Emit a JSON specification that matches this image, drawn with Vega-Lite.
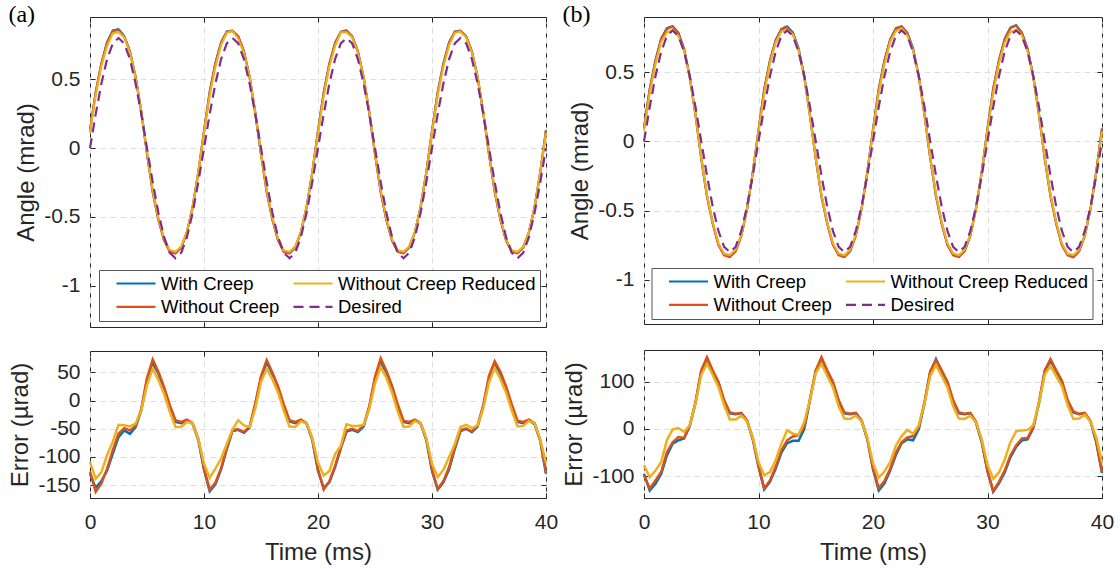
{
"$schema":"https://vega.github.io/schema/vega-lite/v6.json",
"background":"white",
"padding":{"left":8,"right":2,"top":3,"bottom":0},
"config":{
 "font":"Liberation Sans",
 "view":{"stroke":"#262626","strokeWidth":1},
 "axis":{"labelFont":"Liberation Sans","labelFontSize":21,"labelColor":"#262626","titleFont":"Liberation Sans","titleFontSize":24,"titleFontWeight":"normal","titleColor":"#262626","domain":false,"tickColor":"#262626","tickSize":-5,"tickWidth":1,"gridColor":"#dedede","gridDash":[6,4],"gridWidth":1,"labelPadding":15,"titlePadding":5,"labelFlush":false,"labelExpr":"'' + datum.value"},
 "legend":{"columns":2,"symbolType":"stroke","symbolSize":1521,"symbolStrokeWidth":2.4,"labelFont":"Liberation Sans","labelFontSize":18.5,"labelColor":"#000000","labelOffset":4,"symbolOffset":12,"columnPadding":-2.4,"rowPadding":4.4,"padding":4,"clipHeight":19,"fillColor":"#ffffff","strokeColor":"#555555","labelLimit":400}
},
"datasets":{
"a":[
{"t":0,"d":0,"wc":0.13,"wo":0.126,"wr":0.109,"ec":-130,"eo":-126,"er":-109},
{"t":0.5,"d":0.247,"wc":0.402,"wo":0.409,"wr":0.386,"ec":-155,"eo":-162,"er":-139},
{"t":1,"d":0.47,"wc":0.613,"wo":0.617,"wr":0.597,"ec":-143,"eo":-147,"er":-127},
{"t":1.5,"d":0.647,"wc":0.771,"wo":0.768,"wr":0.744,"ec":-124,"eo":-121,"er":-97},
{"t":2,"d":0.761,"wc":0.855,"wo":0.849,"wr":0.834,"ec":-94,"eo":-88,"er":-73},
{"t":2.5,"d":0.8,"wc":0.865,"wo":0.859,"wr":0.843,"ec":-65,"eo":-59,"er":-43},
{"t":3,"d":0.761,"wc":0.814,"wo":0.81,"wr":0.805,"ec":-53,"eo":-49,"er":-44},
{"t":3.5,"d":0.647,"wc":0.706,"wo":0.7,"wr":0.693,"ec":-59,"eo":-53,"er":-46},
{"t":4,"d":0.47,"wc":0.517,"wo":0.515,"wr":0.511,"ec":-47,"eo":-45,"er":-41},
{"t":4.5,"d":0.247,"wc":0.264,"wo":0.262,"wr":0.264,"ec":-17,"eo":-15,"er":-17},
{"t":5,"d":0,"wc":-0.037,"wo":-0.04,"wr":-0.027,"ec":37,"eo":40,"er":27},
{"t":5.5,"d":-0.247,"wc":-0.314,"wo":-0.32,"wr":-0.304,"ec":67,"eo":73,"er":57},
{"t":6,"d":-0.47,"wc":-0.518,"wo":-0.521,"wr":-0.506,"ec":48,"eo":51,"er":36},
{"t":6.5,"d":-0.647,"wc":-0.668,"wo":-0.671,"wr":-0.659,"ec":21,"eo":24,"er":12},
{"t":7,"d":-0.761,"wc":-0.75,"wo":-0.753,"wr":-0.741,"ec":-11,"eo":-8,"er":-20},
{"t":7.5,"d":-0.8,"wc":-0.762,"wo":-0.765,"wr":-0.753,"ec":-38,"eo":-35,"er":-47},
{"t":8,"d":-0.761,"wc":-0.721,"wo":-0.723,"wr":-0.714,"ec":-40,"eo":-38,"er":-47},
{"t":8.5,"d":-0.647,"wc":-0.612,"wo":-0.613,"wr":-0.609,"ec":-35,"eo":-34,"er":-38},
{"t":9,"d":-0.47,"wc":-0.429,"wo":-0.43,"wr":-0.43,"ec":-41,"eo":-40,"er":-40},
{"t":9.5,"d":-0.247,"wc":-0.177,"wo":-0.179,"wr":-0.179,"ec":-70,"eo":-68,"er":-68},
{"t":10,"d":0,"wc":0.123,"wo":0.12,"wr":0.112,"ec":-123,"eo":-120,"er":-112},
{"t":10.5,"d":0.247,"wc":0.408,"wo":0.405,"wr":0.384,"ec":-161,"eo":-158,"er":-137},
{"t":11,"d":0.47,"wc":0.619,"wo":0.616,"wr":0.591,"ec":-149,"eo":-146,"er":-121},
{"t":11.5,"d":0.647,"wc":0.769,"wo":0.767,"wr":0.75,"ec":-122,"eo":-120,"er":-103},
{"t":12,"d":0.761,"wc":0.847,"wo":0.845,"wr":0.838,"ec":-86,"eo":-84,"er":-77},
{"t":12.5,"d":0.8,"wc":0.854,"wo":0.852,"wr":0.851,"ec":-54,"eo":-52,"er":-51},
{"t":13,"d":0.761,"wc":0.813,"wo":0.812,"wr":0.796,"ec":-52,"eo":-51,"er":-35},
{"t":13.5,"d":0.647,"wc":0.704,"wo":0.703,"wr":0.691,"ec":-57,"eo":-56,"er":-44},
{"t":14,"d":0.47,"wc":0.518,"wo":0.516,"wr":0.517,"ec":-48,"eo":-46,"er":-47},
{"t":14.5,"d":0.247,"wc":0.254,"wo":0.252,"wr":0.261,"ec":-7,"eo":-5,"er":-14},
{"t":15,"d":0,"wc":-0.04,"wo":-0.043,"wr":-0.033,"ec":40,"eo":43,"er":33},
{"t":15.5,"d":-0.247,"wc":-0.315,"wo":-0.319,"wr":-0.303,"ec":68,"eo":72,"er":56},
{"t":16,"d":-0.47,"wc":-0.517,"wo":-0.52,"wr":-0.508,"ec":47,"eo":50,"er":38},
{"t":16.5,"d":-0.647,"wc":-0.669,"wo":-0.672,"wr":-0.661,"ec":22,"eo":25,"er":14},
{"t":17,"d":-0.761,"wc":-0.751,"wo":-0.754,"wr":-0.743,"ec":-10,"eo":-7,"er":-18},
{"t":17.5,"d":-0.8,"wc":-0.763,"wo":-0.765,"wr":-0.754,"ec":-37,"eo":-35,"er":-46},
{"t":18,"d":-0.761,"wc":-0.721,"wo":-0.723,"wr":-0.714,"ec":-40,"eo":-38,"er":-47},
{"t":18.5,"d":-0.647,"wc":-0.612,"wo":-0.613,"wr":-0.61,"ec":-35,"eo":-34,"er":-37},
{"t":19,"d":-0.47,"wc":-0.429,"wo":-0.43,"wr":-0.43,"ec":-41,"eo":-40,"er":-40},
{"t":19.5,"d":-0.247,"wc":-0.177,"wo":-0.179,"wr":-0.18,"ec":-70,"eo":-68,"er":-67},
{"t":20,"d":0,"wc":0.125,"wo":0.122,"wr":0.11,"ec":-125,"eo":-122,"er":-110},
{"t":20.5,"d":0.247,"wc":0.402,"wo":0.405,"wr":0.38,"ec":-155,"eo":-158,"er":-133},
{"t":21,"d":0.47,"wc":0.615,"wo":0.613,"wr":0.595,"ec":-145,"eo":-143,"er":-125},
{"t":21.5,"d":0.647,"wc":0.765,"wo":0.763,"wr":0.742,"ec":-118,"eo":-116,"er":-95},
{"t":22,"d":0.761,"wc":0.846,"wo":0.844,"wr":0.841,"ec":-85,"eo":-83,"er":-80},
{"t":22.5,"d":0.8,"wc":0.855,"wo":0.853,"wr":0.842,"ec":-55,"eo":-53,"er":-42},
{"t":23,"d":0.761,"wc":0.813,"wo":0.811,"wr":0.806,"ec":-52,"eo":-50,"er":-45},
{"t":23.5,"d":0.647,"wc":0.703,"wo":0.701,"wr":0.692,"ec":-56,"eo":-54,"er":-45},
{"t":24,"d":0.47,"wc":0.516,"wo":0.514,"wr":0.513,"ec":-46,"eo":-44,"er":-43},
{"t":24.5,"d":0.247,"wc":0.259,"wo":0.257,"wr":0.262,"ec":-12,"eo":-10,"er":-15},
{"t":25,"d":0,"wc":-0.038,"wo":-0.042,"wr":-0.03,"ec":38,"eo":42,"er":30},
{"t":25.5,"d":-0.247,"wc":-0.315,"wo":-0.322,"wr":-0.307,"ec":68,"eo":75,"er":60},
{"t":26,"d":-0.47,"wc":-0.52,"wo":-0.523,"wr":-0.51,"ec":50,"eo":53,"er":40},
{"t":26.5,"d":-0.647,"wc":-0.67,"wo":-0.673,"wr":-0.661,"ec":23,"eo":26,"er":14},
{"t":27,"d":-0.761,"wc":-0.751,"wo":-0.754,"wr":-0.741,"ec":-10,"eo":-7,"er":-20},
{"t":27.5,"d":-0.8,"wc":-0.762,"wo":-0.764,"wr":-0.753,"ec":-38,"eo":-36,"er":-47},
{"t":28,"d":-0.761,"wc":-0.721,"wo":-0.723,"wr":-0.715,"ec":-40,"eo":-38,"er":-46},
{"t":28.5,"d":-0.647,"wc":-0.612,"wo":-0.613,"wr":-0.611,"ec":-35,"eo":-34,"er":-36},
{"t":29,"d":-0.47,"wc":-0.429,"wo":-0.43,"wr":-0.43,"ec":-41,"eo":-40,"er":-40},
{"t":29.5,"d":-0.247,"wc":-0.177,"wo":-0.179,"wr":-0.18,"ec":-70,"eo":-68,"er":-67},
{"t":30,"d":0,"wc":0.125,"wo":0.122,"wr":0.112,"ec":-125,"eo":-122,"er":-112},
{"t":30.5,"d":0.247,"wc":0.405,"wo":0.404,"wr":0.383,"ec":-158,"eo":-157,"er":-136},
{"t":31,"d":0.47,"wc":0.615,"wo":0.613,"wr":0.593,"ec":-145,"eo":-143,"er":-123},
{"t":31.5,"d":0.647,"wc":0.769,"wo":0.765,"wr":0.747,"ec":-122,"eo":-118,"er":-100},
{"t":32,"d":0.761,"wc":0.847,"wo":0.844,"wr":0.838,"ec":-86,"eo":-83,"er":-77},
{"t":32.5,"d":0.8,"wc":0.854,"wo":0.852,"wr":0.847,"ec":-54,"eo":-52,"er":-47},
{"t":33,"d":0.761,"wc":0.811,"wo":0.811,"wr":0.804,"ec":-50,"eo":-50,"er":-43},
{"t":33.5,"d":0.647,"wc":0.703,"wo":0.702,"wr":0.696,"ec":-56,"eo":-55,"er":-49},
{"t":34,"d":0.47,"wc":0.516,"wo":0.514,"wr":0.514,"ec":-46,"eo":-44,"er":-44},
{"t":34.5,"d":0.247,"wc":0.257,"wo":0.255,"wr":0.261,"ec":-10,"eo":-8,"er":-14},
{"t":35,"d":0,"wc":-0.04,"wo":-0.044,"wr":-0.032,"ec":40,"eo":44,"er":32},
{"t":35.5,"d":-0.247,"wc":-0.313,"wo":-0.317,"wr":-0.305,"ec":66,"eo":70,"er":58},
{"t":36,"d":-0.47,"wc":-0.517,"wo":-0.521,"wr":-0.508,"ec":47,"eo":51,"er":38},
{"t":36.5,"d":-0.647,"wc":-0.669,"wo":-0.672,"wr":-0.661,"ec":22,"eo":25,"er":14},
{"t":37,"d":-0.761,"wc":-0.751,"wo":-0.754,"wr":-0.743,"ec":-10,"eo":-7,"er":-18},
{"t":37.5,"d":-0.8,"wc":-0.762,"wo":-0.764,"wr":-0.754,"ec":-38,"eo":-36,"er":-46},
{"t":38,"d":-0.761,"wc":-0.721,"wo":-0.723,"wr":-0.716,"ec":-40,"eo":-38,"er":-45},
{"t":38.5,"d":-0.647,"wc":-0.612,"wo":-0.613,"wr":-0.611,"ec":-35,"eo":-34,"er":-36},
{"t":39,"d":-0.47,"wc":-0.428,"wo":-0.43,"wr":-0.43,"ec":-42,"eo":-40,"er":-40},
{"t":39.5,"d":-0.247,"wc":-0.175,"wo":-0.177,"wr":-0.177,"ec":-72,"eo":-70,"er":-70},
{"t":40,"d":0,"wc":0.13,"wo":0.128,"wr":0.11,"ec":-130,"eo":-128,"er":-110}
],
"b":[
{"t":0,"d":0,"wc":0.095,"wo":0.098,"wr":0.077,"ec":-95,"eo":-98,"er":-77},
{"t":0.5,"d":0.247,"wc":0.377,"wo":0.373,"wr":0.349,"ec":-130,"eo":-126,"er":-102},
{"t":1,"d":0.47,"wc":0.586,"wo":0.579,"wr":0.558,"ec":-116,"eo":-109,"er":-88},
{"t":1.5,"d":0.647,"wc":0.742,"wo":0.738,"wr":0.717,"ec":-95,"eo":-91,"er":-70},
{"t":2,"d":0.761,"wc":0.817,"wo":0.81,"wr":0.785,"ec":-56,"eo":-49,"er":-24},
{"t":2.5,"d":0.8,"wc":0.831,"wo":0.828,"wr":0.801,"ec":-31,"eo":-28,"er":-1},
{"t":3,"d":0.761,"wc":0.785,"wo":0.778,"wr":0.759,"ec":-24,"eo":-17,"er":2},
{"t":3.5,"d":0.647,"wc":0.667,"wo":0.666,"wr":0.653,"ec":-20,"eo":-19,"er":-6},
{"t":4,"d":0.47,"wc":0.464,"wo":0.462,"wr":0.462,"ec":6,"eo":8,"er":8},
{"t":4.5,"d":0.247,"wc":0.192,"wo":0.19,"wr":0.193,"ec":55,"eo":57,"er":54},
{"t":5,"d":0,"wc":-0.122,"wo":-0.124,"wr":-0.114,"ec":122,"eo":124,"er":114},
{"t":5.5,"d":-0.247,"wc":-0.392,"wo":-0.399,"wr":-0.385,"ec":145,"eo":152,"er":138},
{"t":6,"d":-0.47,"wc":-0.59,"wo":-0.594,"wr":-0.584,"ec":120,"eo":124,"er":114},
{"t":6.5,"d":-0.647,"wc":-0.745,"wo":-0.747,"wr":-0.736,"ec":98,"eo":100,"er":89},
{"t":7,"d":-0.761,"wc":-0.819,"wo":-0.822,"wr":-0.811,"ec":58,"eo":61,"er":50},
{"t":7.5,"d":-0.8,"wc":-0.833,"wo":-0.835,"wr":-0.82,"ec":33,"eo":35,"er":20},
{"t":8,"d":-0.761,"wc":-0.792,"wo":-0.793,"wr":-0.781,"ec":31,"eo":32,"er":20},
{"t":8.5,"d":-0.647,"wc":-0.68,"wo":-0.681,"wr":-0.675,"ec":33,"eo":34,"er":28},
{"t":9,"d":-0.47,"wc":-0.487,"wo":-0.488,"wr":-0.486,"ec":17,"eo":18,"er":16},
{"t":9.5,"d":-0.247,"wc":-0.225,"wo":-0.227,"wr":-0.229,"ec":-22,"eo":-20,"er":-18},
{"t":10,"d":0,"wc":0.08,"wo":0.077,"wr":0.07,"ec":-80,"eo":-77,"er":-70},
{"t":10.5,"d":0.247,"wc":0.375,"wo":0.373,"wr":0.345,"ec":-128,"eo":-126,"er":-98},
{"t":11,"d":0.47,"wc":0.582,"wo":0.579,"wr":0.561,"ec":-112,"eo":-109,"er":-91},
{"t":11.5,"d":0.647,"wc":0.731,"wo":0.727,"wr":0.713,"ec":-84,"eo":-80,"er":-66},
{"t":12,"d":0.761,"wc":0.811,"wo":0.806,"wr":0.792,"ec":-50,"eo":-45,"er":-31},
{"t":12.5,"d":0.8,"wc":0.83,"wo":0.824,"wr":0.803,"ec":-30,"eo":-24,"er":-3},
{"t":13,"d":0.761,"wc":0.786,"wo":0.777,"wr":0.771,"ec":-25,"eo":-16,"er":-10},
{"t":13.5,"d":0.647,"wc":0.672,"wo":0.66,"wr":0.659,"ec":-25,"eo":-13,"er":-12},
{"t":14,"d":0.47,"wc":0.47,"wo":0.466,"wr":0.455,"ec":0,"eo":4,"er":15},
{"t":14.5,"d":0.247,"wc":0.185,"wo":0.183,"wr":0.185,"ec":62,"eo":64,"er":62},
{"t":15,"d":0,"wc":-0.122,"wo":-0.124,"wr":-0.118,"ec":122,"eo":124,"er":118},
{"t":15.5,"d":-0.247,"wc":-0.393,"wo":-0.399,"wr":-0.385,"ec":146,"eo":152,"er":138},
{"t":16,"d":-0.47,"wc":-0.59,"wo":-0.594,"wr":-0.582,"ec":120,"eo":124,"er":112},
{"t":16.5,"d":-0.647,"wc":-0.745,"wo":-0.747,"wr":-0.735,"ec":98,"eo":100,"er":88},
{"t":17,"d":-0.761,"wc":-0.819,"wo":-0.822,"wr":-0.809,"ec":58,"eo":61,"er":48},
{"t":17.5,"d":-0.8,"wc":-0.833,"wo":-0.835,"wr":-0.822,"ec":33,"eo":35,"er":22},
{"t":18,"d":-0.761,"wc":-0.792,"wo":-0.793,"wr":-0.782,"ec":31,"eo":32,"er":21},
{"t":18.5,"d":-0.647,"wc":-0.68,"wo":-0.681,"wr":-0.675,"ec":33,"eo":34,"er":28},
{"t":19,"d":-0.47,"wc":-0.487,"wo":-0.488,"wr":-0.486,"ec":17,"eo":18,"er":16},
{"t":19.5,"d":-0.247,"wc":-0.225,"wo":-0.227,"wr":-0.229,"ec":-22,"eo":-20,"er":-18},
{"t":20,"d":0,"wc":0.085,"wo":0.082,"wr":0.072,"ec":-85,"eo":-82,"er":-72},
{"t":20.5,"d":0.247,"wc":0.377,"wo":0.372,"wr":0.35,"ec":-130,"eo":-125,"er":-103},
{"t":21,"d":0.47,"wc":0.585,"wo":0.58,"wr":0.56,"ec":-115,"eo":-110,"er":-90},
{"t":21.5,"d":0.647,"wc":0.735,"wo":0.731,"wr":0.717,"ec":-88,"eo":-84,"er":-70},
{"t":22,"d":0.761,"wc":0.816,"wo":0.811,"wr":0.796,"ec":-55,"eo":-50,"er":-35},
{"t":22.5,"d":0.8,"wc":0.83,"wo":0.828,"wr":0.815,"ec":-30,"eo":-28,"er":-15},
{"t":23,"d":0.761,"wc":0.783,"wo":0.779,"wr":0.763,"ec":-22,"eo":-18,"er":-2},
{"t":23.5,"d":0.647,"wc":0.671,"wo":0.662,"wr":0.657,"ec":-24,"eo":-15,"er":-10},
{"t":24,"d":0.47,"wc":0.47,"wo":0.466,"wr":0.462,"ec":0,"eo":4,"er":8},
{"t":24.5,"d":0.247,"wc":0.192,"wo":0.19,"wr":0.193,"ec":55,"eo":57,"er":54},
{"t":25,"d":0,"wc":-0.12,"wo":-0.122,"wr":-0.112,"ec":120,"eo":122,"er":112},
{"t":25.5,"d":-0.247,"wc":-0.395,"wo":-0.392,"wr":-0.382,"ec":148,"eo":145,"er":135},
{"t":26,"d":-0.47,"wc":-0.592,"wo":-0.594,"wr":-0.582,"ec":122,"eo":124,"er":112},
{"t":26.5,"d":-0.647,"wc":-0.745,"wo":-0.747,"wr":-0.735,"ec":98,"eo":100,"er":88},
{"t":27,"d":-0.761,"wc":-0.819,"wo":-0.822,"wr":-0.809,"ec":58,"eo":61,"er":48},
{"t":27.5,"d":-0.8,"wc":-0.833,"wo":-0.835,"wr":-0.822,"ec":33,"eo":35,"er":22},
{"t":28,"d":-0.761,"wc":-0.792,"wo":-0.793,"wr":-0.782,"ec":31,"eo":32,"er":21},
{"t":28.5,"d":-0.647,"wc":-0.68,"wo":-0.681,"wr":-0.675,"ec":33,"eo":34,"er":28},
{"t":29,"d":-0.47,"wc":-0.483,"wo":-0.485,"wr":-0.484,"ec":13,"eo":15,"er":14},
{"t":29.5,"d":-0.247,"wc":-0.219,"wo":-0.221,"wr":-0.225,"ec":-28,"eo":-26,"er":-22},
{"t":30,"d":0,"wc":0.09,"wo":0.088,"wr":0.076,"ec":-90,"eo":-88,"er":-76},
{"t":30.5,"d":0.247,"wc":0.38,"wo":0.378,"wr":0.352,"ec":-133,"eo":-131,"er":-105},
{"t":31,"d":0.47,"wc":0.585,"wo":0.582,"wr":0.562,"ec":-115,"eo":-112,"er":-92},
{"t":31.5,"d":0.647,"wc":0.739,"wo":0.735,"wr":0.712,"ec":-92,"eo":-88,"er":-65},
{"t":32,"d":0.761,"wc":0.821,"wo":0.817,"wr":0.789,"ec":-60,"eo":-56,"er":-28},
{"t":32.5,"d":0.8,"wc":0.838,"wo":0.835,"wr":0.805,"ec":-38,"eo":-35,"er":-5},
{"t":33,"d":0.761,"wc":0.785,"wo":0.781,"wr":0.764,"ec":-24,"eo":-20,"er":-3},
{"t":33.5,"d":0.647,"wc":0.669,"wo":0.666,"wr":0.649,"ec":-22,"eo":-19,"er":-2},
{"t":34,"d":0.47,"wc":0.468,"wo":0.466,"wr":0.462,"ec":2,"eo":4,"er":8},
{"t":34.5,"d":0.247,"wc":0.192,"wo":0.19,"wr":0.192,"ec":55,"eo":57,"er":55},
{"t":35,"d":0,"wc":-0.122,"wo":-0.124,"wr":-0.115,"ec":122,"eo":124,"er":115},
{"t":35.5,"d":-0.247,"wc":-0.392,"wo":-0.395,"wr":-0.38,"ec":145,"eo":148,"er":133},
{"t":36,"d":-0.47,"wc":-0.592,"wo":-0.594,"wr":-0.582,"ec":122,"eo":124,"er":112},
{"t":36.5,"d":-0.647,"wc":-0.747,"wo":-0.749,"wr":-0.737,"ec":100,"eo":102,"er":90},
{"t":37,"d":-0.761,"wc":-0.819,"wo":-0.822,"wr":-0.811,"ec":58,"eo":61,"er":50},
{"t":37.5,"d":-0.8,"wc":-0.835,"wo":-0.837,"wr":-0.821,"ec":35,"eo":37,"er":21},
{"t":38,"d":-0.761,"wc":-0.792,"wo":-0.793,"wr":-0.783,"ec":31,"eo":32,"er":22},
{"t":38.5,"d":-0.647,"wc":-0.68,"wo":-0.681,"wr":-0.677,"ec":33,"eo":34,"er":30},
{"t":39,"d":-0.47,"wc":-0.485,"wo":-0.487,"wr":-0.485,"ec":15,"eo":17,"er":15},
{"t":39.5,"d":-0.247,"wc":-0.219,"wo":-0.22,"wr":-0.229,"ec":-28,"eo":-27,"er":-18},
{"t":40,"d":0,"wc":0.093,"wo":0.091,"wr":0.07,"ec":-93,"eo":-91,"er":-70}
]
},
"spacing":3,
"resolve":{"scale":{"x":"independent","y":"independent","color":"independent","strokeDash":"independent","strokeWidth":"independent"},"legend":{"color":"independent","strokeDash":"independent","strokeWidth":"independent"}},
"hconcat":[
{
 "title":{"text":"(a)","anchor":"start","frame":"bounds","font":"Liberation Serif","fontSize":24,"fontWeight":"normal","color":"#000000","offset":-11},
 "spacing":22,
 "resolve":{"scale":{"x":"independent","y":"independent","color":"independent","strokeDash":"independent","strokeWidth":"independent"},"legend":{"color":"independent","strokeDash":"independent","strokeWidth":"independent"}},
 "vconcat":[
  {
   "width":456,"height":310,
   "data":{"name":"a"},
   "transform":[{"fold":["wc","wo","wr","d"],"as":["k","v"]}],
   "layer":[
    {"mark":{"type":"line"},
     "encoding":{
      "x":{"field":"t","type":"quantitative","scale":{"domain":[0,40],"nice":false,"zero":false},"axis":{"values":[0,10,20,30,40],"labels":false,"title":null}},
      "y":{"field":"v","type":"quantitative","scale":{"domain":[-1.3,0.953],"nice":false,"zero":false},"axis":{"values":[-1,-0.5,0,0.5],"title":"Angle (mrad)"}},
      "color":{"field":"k","type":"nominal","scale":{"domain":["wc","wo","wr","d"],"range":["#0072BD","#D95319","#EDB120","#7E2F8E"]},"legend":{"orient":"none","legendX":9,"legendY":253,"title":null,"labelExpr":"datum.value=='wc'?'With Creep':datum.value=='wo'?'Without Creep':datum.value=='wr'?'Without Creep Reduced':'Desired'"}},
      "strokeDash":{"field":"k","type":"nominal","scale":{"domain":["wc","wo","wr","d"],"range":[[1,0],[1,0],[1,0],[10,6]]},"legend":{"orient":"none","legendX":9,"legendY":253,"title":null,"labelExpr":"datum.value=='wc'?'With Creep':datum.value=='wo'?'Without Creep':datum.value=='wr'?'Without Creep Reduced':'Desired'"}},
      "strokeWidth":{"field":"k","type":"nominal","scale":{"domain":["wc","wo","wr","d"],"range":[2.2,2.2,2.2,2.8]},"legend":{"orient":"none","legendX":9,"legendY":253,"title":null,"labelExpr":"datum.value=='wc'?'With Creep':datum.value=='wo'?'Without Creep':datum.value=='wr'?'Without Creep Reduced':'Desired'"}}
     }},
    {"mark":{"type":"line","strokeOpacity":0},
     "encoding":{
      "x":{"field":"t","type":"quantitative","axis":{"orient":"top","values":[0,10,20,30,40],"labels":false,"grid":false,"title":null}},
      "y":{"field":"v","type":"quantitative","axis":{"orient":"right","values":[-1,-0.5,0,0.5],"labels":false,"grid":false,"title":null}}
     }}
   ],
   "resolve":{"axis":{"x":"independent","y":"independent"}}
  },
  {
   "width":456,"height":147,
   "data":{"name":"a"},
   "transform":[{"fold":["ec","eo","er"],"as":["k","v"]}],
   "layer":[
    {"mark":{"type":"line","strokeWidth":2.5},
     "encoding":{
      "x":{"field":"t","type":"quantitative","scale":{"domain":[0,40],"nice":false,"zero":false},"axis":{"values":[0,10,20,30,40],"title":"Time (ms)","labelPadding":18,"titlePadding":8}},
      "y":{"field":"v","type":"quantitative","scale":{"domain":[-173,88],"nice":false,"zero":false},"axis":{"values":[-150,-100,-50,0,50],"title":"Error (µrad)"}},
      "color":{"field":"k","type":"nominal","scale":{"domain":["ec","eo","er"],"range":["#0072BD","#D95319","#EDB120"]},"legend":null}
     }},
    {"mark":{"type":"line","strokeOpacity":0},
     "encoding":{
      "x":{"field":"t","type":"quantitative","axis":{"orient":"top","values":[0,10,20,30,40],"labels":false,"grid":false,"title":null}},
      "y":{"field":"v","type":"quantitative","axis":{"orient":"right","values":[-150,-100,-50,0,50],"labels":false,"grid":false,"title":null}}
     }}
   ],
   "resolve":{"axis":{"x":"independent","y":"independent"}}
  }
 ]
},
{
 "title":{"text":"(b)","anchor":"start","frame":"bounds","font":"Liberation Serif","fontSize":24,"fontWeight":"normal","color":"#000000","offset":-11},
 "spacing":24,
 "resolve":{"scale":{"x":"independent","y":"independent","color":"independent","strokeDash":"independent","strokeWidth":"independent"},"legend":{"color":"independent","strokeDash":"independent","strokeWidth":"independent"}},
 "vconcat":[
  {
   "width":458,"height":307,
   "data":{"name":"b"},
   "transform":[{"fold":["wc","wo","wr","d"],"as":["k","v"]}],
   "layer":[
    {"mark":{"type":"line"},
     "encoding":{
      "x":{"field":"t","type":"quantitative","scale":{"domain":[0,40],"nice":false,"zero":false},"axis":{"values":[0,10,20,30,40],"labels":false,"title":null}},
      "y":{"field":"v","type":"quantitative","scale":{"domain":[-1.318,0.897],"nice":false,"zero":false},"axis":{"values":[-1,-0.5,0,0.5],"title":"Angle (mrad)"}},
      "color":{"field":"k","type":"nominal","scale":{"domain":["wc","wo","wr","d"],"range":["#0072BD","#D95319","#EDB120","#7E2F8E"]},"legend":{"orient":"none","legendX":7.5,"legendY":251,"title":null,"labelExpr":"datum.value=='wc'?'With Creep':datum.value=='wo'?'Without Creep':datum.value=='wr'?'Without Creep Reduced':'Desired'"}},
      "strokeDash":{"field":"k","type":"nominal","scale":{"domain":["wc","wo","wr","d"],"range":[[1,0],[1,0],[1,0],[10,6]]},"legend":{"orient":"none","legendX":7.5,"legendY":251,"title":null,"labelExpr":"datum.value=='wc'?'With Creep':datum.value=='wo'?'Without Creep':datum.value=='wr'?'Without Creep Reduced':'Desired'"}},
      "strokeWidth":{"field":"k","type":"nominal","scale":{"domain":["wc","wo","wr","d"],"range":[2.2,2.2,2.2,2.8]},"legend":{"orient":"none","legendX":7.5,"legendY":251,"title":null,"labelExpr":"datum.value=='wc'?'With Creep':datum.value=='wo'?'Without Creep':datum.value=='wr'?'Without Creep Reduced':'Desired'"}}
     }},
    {"mark":{"type":"line","strokeOpacity":0},
     "encoding":{
      "x":{"field":"t","type":"quantitative","axis":{"orient":"top","values":[0,10,20,30,40],"labels":false,"grid":false,"title":null}},
      "y":{"field":"v","type":"quantitative","axis":{"orient":"right","values":[-1,-0.5,0,0.5],"labels":false,"grid":false,"title":null}}
     }}
   ],
   "resolve":{"axis":{"x":"independent","y":"independent"}}
  },
  {
   "width":458,"height":148,
   "data":{"name":"b"},
   "transform":[{"fold":["ec","eo","er"],"as":["k","v"]}],
   "layer":[
    {"mark":{"type":"line","strokeWidth":2.5},
     "encoding":{
      "x":{"field":"t","type":"quantitative","scale":{"domain":[0,40],"nice":false,"zero":false},"axis":{"values":[0,10,20,30,40],"title":"Time (ms)","labelPadding":18,"titlePadding":8}},
      "y":{"field":"v","type":"quantitative","scale":{"domain":[-146,167],"nice":false,"zero":false},"axis":{"values":[-100,0,100],"title":"Error (µrad)"}},
      "color":{"field":"k","type":"nominal","scale":{"domain":["ec","eo","er"],"range":["#0072BD","#D95319","#EDB120"]},"legend":null}
     }},
    {"mark":{"type":"line","strokeOpacity":0},
     "encoding":{
      "x":{"field":"t","type":"quantitative","axis":{"orient":"top","values":[0,10,20,30,40],"labels":false,"grid":false,"title":null}},
      "y":{"field":"v","type":"quantitative","axis":{"orient":"right","values":[-100,0,100],"labels":false,"grid":false,"title":null}}
     }}
   ],
   "resolve":{"axis":{"x":"independent","y":"independent"}}
  }
 ]
}
]
}
